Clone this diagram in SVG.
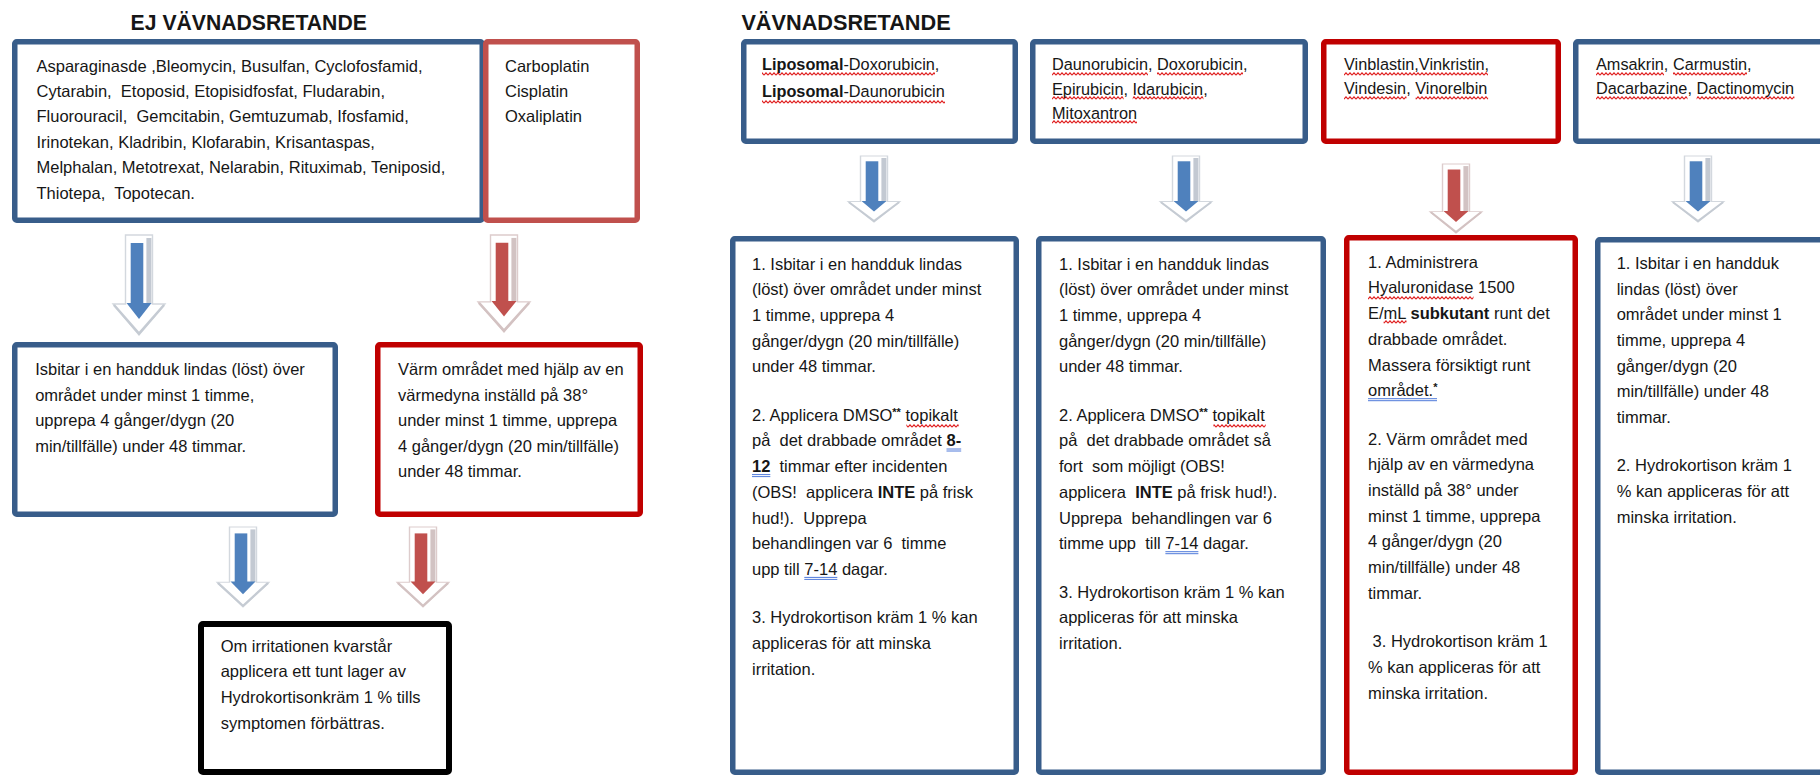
<svg xmlns="http://www.w3.org/2000/svg" xmlns:xlink="http://www.w3.org/1999/xlink" width="1820" height="775" viewBox="0 0 1820 775" xml:space="preserve">
<style>
text { font-family: "Liberation Sans", Arial, sans-serif; fill: #161616; white-space: pre; }
.t { font-size: 16.5px; }
.ts { font-size: 16.3px; }
.b { font-weight: bold; }
.h { font-weight: bold; }
.bx { fill: #fff; stroke: #385d8a; stroke-width: 5.5; }
.rd { fill: #fff; stroke: #c00000; stroke-width: 5.5; }
.rl { fill: #fff; stroke: #c0504d; stroke-width: 5.5; }
.bk { fill: #fff; stroke: #000; stroke-width: 6; }
.wv { fill: url(#wavy); }
.du { stroke: #3c6bd6; stroke-width: 0.9; fill: none; }
</style>
<defs>
<pattern id="wavy" patternUnits="userSpaceOnUse" x="0" y="0" width="4" height="4">
<path d="M0,3.2 L2,0.8 L4,3.2" fill="none" stroke="#e02020" stroke-width="1.1"/>
</pattern>
<g id="arrB">
<polygon points="-13.5,0 13.5,0 13.5,69 26,69 0,100 -26,69 -13.5,69" fill="#fff" stroke="#d3d8de" stroke-width="1.4"/>
<rect x="7.4" y="3" width="5" height="66" fill="#c3c9d2"/>
<polyline points="-25,70 0,98.5 25,70" fill="none" stroke="#c5cbd3" stroke-width="2.5"/>
<rect x="-8.3" y="8" width="12.6" height="61" fill="#4f81bd"/>
<polygon points="-12.5,68 12.5,68 0,84" fill="#4f81bd"/>
</g>
<g id="arrR">
<polygon points="-13.5,0 13.5,0 13.5,69 26,69 0,100 -26,69 -13.5,69" fill="#fff" stroke="#ddcccc" stroke-width="1.4"/>
<rect x="7.4" y="3" width="5" height="66" fill="#d2c3c3"/>
<polyline points="-25,70 0,98.5 25,70" fill="none" stroke="#d3c2c2" stroke-width="2.5"/>
<rect x="-8.3" y="8" width="12.6" height="61" fill="#c0504d"/>
<polygon points="-12.5,68 12.5,68 0,84" fill="#c0504d"/>
</g>
</defs>
<rect x="0" y="0" width="1820" height="775" fill="#fff"/>

<text class="h" x="130.6" y="30" font-size="21.2">EJ VÄVNADSRETANDE</text>
<text class="h" x="741.4" y="30" font-size="21.7">VÄVNADSRETANDE</text>

<g id="connectors">
<use xlink:href="#arrB" transform="translate(139,235)"/>
<use xlink:href="#arrR" transform="translate(504,235) scale(1,0.97)"/>
<use xlink:href="#arrB" transform="translate(243,527) scale(1,0.8)"/>
<use xlink:href="#arrR" transform="translate(423,527) scale(1,0.8)"/>
<use xlink:href="#arrB" transform="translate(874,156) scale(1,0.66)"/>
<use xlink:href="#arrB" transform="translate(1186,156) scale(1,0.66)"/>
<use xlink:href="#arrR" transform="translate(1456,164) scale(1,0.69)"/>
<use xlink:href="#arrB" transform="translate(1698,156) scale(1,0.66)"/>
</g>

<g id="node-ej-drugs">
<rect class="bx" x="14.75" y="41.75" width="467.5" height="178.5" rx="2"/>
<text class="t" x="36.5" y="71.5">Asparaginasde ,Bleomycin, Busulfan, Cyclofosfamid,</text>
<text class="t" x="36.5" y="96.9">Cytarabin,  Etoposid, Etopisidfosfat, Fludarabin,</text>
<text class="t" x="36.5" y="122.3">Fluorouracil,  Gemcitabin, Gemtuzumab, Ifosfamid,</text>
<text class="t" x="36.5" y="147.7">Irinotekan, Kladribin, Klofarabin, Krisantaspas,</text>
<text class="t" x="36.5" y="173.1">Melphalan, Metotrexat, Nelarabin, Rituximab, Teniposid,</text>
<text class="t" x="36.5" y="198.5">Thiotepa,  Topotecan.</text>
</g>

<g id="node-platin">
<rect class="rl" x="485.75" y="41.75" width="151.5" height="178.5" rx="2"/>
<text class="t" x="505" y="71.5">Carboplatin</text>
<text class="t" x="505" y="96.9">Cisplatin</text>
<text class="t" x="505" y="122.3">Oxaliplatin</text>
</g>

<g id="node-ej-cold">
<rect class="bx" x="14.75" y="344.75" width="320.5" height="169.5" rx="2"/>
<text class="t" x="35.2" y="375">Isbitar i en handduk lindas (löst) över</text>
<text class="t" x="35.2" y="400.6">området under minst 1 timme,</text>
<text class="t" x="35.2" y="426.2">upprepa 4 gånger/dygn (20</text>
<text class="t" x="35.2" y="451.8">min/tillfälle) under 48 timmar.</text>
</g>

<g id="node-ej-warm">
<rect class="rd" x="377.75" y="344.75" width="262.5" height="169.5" rx="2"/>
<text class="t" x="398" y="375">Värm området med hjälp av en</text>
<text class="t" x="398" y="400.6">värmedyna inställd på 38°</text>
<text class="t" x="398" y="426.2">under minst 1 timme, upprepa</text>
<text class="t" x="398" y="451.8">4 gånger/dygn (20 min/tillfälle)</text>
<text class="t" x="398" y="477.4">under 48 timmar.</text>
</g>

<g id="node-ej-hydro">
<rect class="bk" x="201" y="624" width="248" height="148" rx="2"/>
<text class="t" x="220.7" y="651.7">Om irritationen kvarstår</text>
<text class="t" x="220.7" y="677.3">applicera ett tunt lager av</text>
<text class="t" x="220.7" y="702.9">Hydrokortisonkräm 1 % tills</text>
<text class="t" x="220.7" y="728.5">symptomen förbättras.</text>
</g>

<g id="node-liposomal">
<rect class="bx" x="743.75" y="41.75" width="271.5" height="99.5" rx="2"/>
<rect class="wv" x="762" y="72" width="173" height="4"/>
<rect class="wv" x="762" y="100" width="183" height="4"/>
<text class="ts" x="762" y="70"><tspan class="b">Liposomal</tspan>-Doxorubicin,</text>
<text class="ts" x="762" y="97"><tspan class="b">Liposomal</tspan>-Daunorubicin</text>
</g>

<g id="node-antracykliner">
<rect class="bx" x="1032.75" y="41.75" width="272.5" height="99.5" rx="2"/>
<rect class="wv" x="1052" y="72" width="96" height="4"/>
<rect class="wv" x="1157" y="72" width="86" height="4"/>
<rect class="wv" x="1052" y="96" width="71.6" height="4"/>
<rect class="wv" x="1132.7" y="96" width="70.7" height="4"/>
<rect class="wv" x="1052" y="120" width="85" height="4"/>
<text class="ts" x="1052" y="70">Daunorubicin, Doxorubicin,</text>
<text class="ts" x="1052" y="94.5">Epirubicin, Idarubicin,</text>
<text class="ts" x="1052" y="119">Mitoxantron</text>
</g>

<g id="node-vinka">
<rect class="rd" x="1323.75" y="41.75" width="234.5" height="99.5" rx="2"/>
<rect class="wv" x="1344" y="72" width="144" height="4"/>
<rect class="wv" x="1344" y="96" width="62.5" height="4"/>
<rect class="wv" x="1415.6" y="96" width="72.5" height="4"/>
<text class="ts" x="1344" y="70">Vinblastin,Vinkristin,</text>
<text class="ts" x="1344" y="93.5">Vindesin, Vinorelbin</text>
</g>

<g id="node-ovriga">
<rect class="bx" x="1575.75" y="41.75" width="260" height="99.5" rx="2"/>
<rect class="wv" x="1596" y="72" width="68" height="4"/>
<rect class="wv" x="1673" y="72" width="74" height="4"/>
<rect class="wv" x="1596" y="96" width="91.5" height="4"/>
<rect class="wv" x="1696.6" y="96" width="97.8" height="4"/>
<text class="ts" x="1596" y="70">Amsakrin, Carmustin,</text>
<text class="ts" x="1596" y="93.5">Dacarbazine, Dactinomycin</text>
</g>

<g id="node-b1">
<rect class="bx" x="732.75" y="238.75" width="283.5" height="533.5" rx="2"/>
<rect class="wv" x="906.4" y="424" width="52.3" height="4"/>
<path class="du" d="M946.5,449 H961.2 M946.5,451 H961.2 M752,474.6 H770.3 M752,476.6 H770.3 M804.3,577.4 H837.3 M804.3,579.4 H837.3"/>
<text class="t" x="752" y="269.5">1. Isbitar i en handduk lindas</text>
<text class="t" x="752" y="295.2">(löst) över området under minst</text>
<text class="t" x="752" y="320.9">1 timme, upprepa 4</text>
<text class="t" x="752" y="346.6">gånger/dygn (20 min/tillfälle)</text>
<text class="t" x="752" y="372.3">under 48 timmar.</text>
<text class="t" x="752" y="420.7">2. Applicera DMSO<tspan font-size="11" dy="-5" class="b">**</tspan><tspan dy="5"> topikalt</tspan></text>
<text class="t" x="752" y="446.4">på  det drabbade området <tspan class="b">8-</tspan></text>
<text class="t" x="752" y="472.1"><tspan class="b">12</tspan>  timmar efter incidenten</text>
<text class="t" x="752" y="497.8">(OBS!  applicera <tspan class="b">INTE</tspan> på frisk</text>
<text class="t" x="752" y="523.5">hud!).  Upprepa</text>
<text class="t" x="752" y="549.2">behandlingen var 6  timme</text>
<text class="t" x="752" y="574.9">upp till 7-14 dagar.</text>
<text class="t" x="752" y="623.3">3. Hydrokortison kräm 1 % kan</text>
<text class="t" x="752" y="649">appliceras för att minska</text>
<text class="t" x="752" y="674.7">irritation.</text>
</g>

<g id="node-b2">
<rect class="bx" x="1038.75" y="238.75" width="284.5" height="533.5" rx="2"/>
<rect class="wv" x="1213.4" y="424" width="52.3" height="4"/>
<path class="du" d="M1165.4,551.7 H1198.4 M1165.4,553.7 H1198.4"/>
<text class="t" x="1059" y="269.5">1. Isbitar i en handduk lindas</text>
<text class="t" x="1059" y="295.2">(löst) över området under minst</text>
<text class="t" x="1059" y="320.9">1 timme, upprepa 4</text>
<text class="t" x="1059" y="346.6">gånger/dygn (20 min/tillfälle)</text>
<text class="t" x="1059" y="372.3">under 48 timmar.</text>
<text class="t" x="1059" y="420.7">2. Applicera DMSO<tspan font-size="11" dy="-5" class="b">**</tspan><tspan dy="5"> topikalt</tspan></text>
<text class="t" x="1059" y="446.4">på  det drabbade området så</text>
<text class="t" x="1059" y="472.1">fort  som möjligt (OBS!</text>
<text class="t" x="1059" y="497.8">applicera  <tspan class="b">INTE</tspan> på frisk hud!).</text>
<text class="t" x="1059" y="523.5">Upprepa  behandlingen var 6</text>
<text class="t" x="1059" y="549.2">timme upp  till 7-14 dagar.</text>
<text class="t" x="1059" y="597.6">3. Hydrokortison kräm 1 % kan</text>
<text class="t" x="1059" y="623.3">appliceras för att minska</text>
<text class="t" x="1059" y="649">irritation.</text>
</g>

<g id="node-b3">
<rect class="rd" x="1346.75" y="237.75" width="228.5" height="534.5" rx="2"/>
<rect class="wv" x="1368" y="296" width="105.5" height="4"/>
<rect class="wv" x="1383.6" y="320" width="22.9" height="4"/>
<path class="du" d="M1368,398.7 H1437 M1368,400.7 H1437"/>
<text class="t" x="1368" y="267.7">1. Administrera</text>
<text class="t" x="1368" y="293.4">Hyaluronidase 1500</text>
<text class="t" x="1368" y="319.1">E/mL <tspan class="b">subkutant</tspan> runt det</text>
<text class="t" x="1368" y="344.8">drabbade området.</text>
<text class="t" x="1368" y="370.5">Massera försiktigt runt</text>
<text class="t" x="1368" y="396.2">området.<tspan font-size="11" dy="-5" class="b">*</tspan></text>
<text class="t" x="1368" y="444.6">2. Värm området med</text>
<text class="t" x="1368" y="470.3">hjälp av en värmedyna</text>
<text class="t" x="1368" y="496">inställd på 38° under</text>
<text class="t" x="1368" y="521.7">minst 1 timme, upprepa</text>
<text class="t" x="1368" y="547.4">4 gånger/dygn (20</text>
<text class="t" x="1368" y="573.1">min/tillfälle) under 48</text>
<text class="t" x="1368" y="598.8">timmar.</text>
<text class="t" x="1368" y="647.2"> 3. Hydrokortison kräm 1</text>
<text class="t" x="1368" y="672.9">% kan appliceras för att</text>
<text class="t" x="1368" y="698.6">minska irritation.</text>
</g>

<g id="node-b4">
<rect class="bx" x="1597.75" y="239.75" width="240" height="532.5" rx="2"/>
<text class="t" x="1616.7" y="268.8">1. Isbitar i en handduk</text>
<text class="t" x="1616.7" y="294.5">lindas (löst) över</text>
<text class="t" x="1616.7" y="320.2">området under minst 1</text>
<text class="t" x="1616.7" y="345.9">timme, upprepa 4</text>
<text class="t" x="1616.7" y="371.6">gånger/dygn (20</text>
<text class="t" x="1616.7" y="397.3">min/tillfälle) under 48</text>
<text class="t" x="1616.7" y="423">timmar.</text>
<text class="t" x="1616.7" y="471.4">2. Hydrokortison kräm 1</text>
<text class="t" x="1616.7" y="497.1">% kan appliceras för att</text>
<text class="t" x="1616.7" y="522.8">minska irritation.</text>
</g>
</svg>
